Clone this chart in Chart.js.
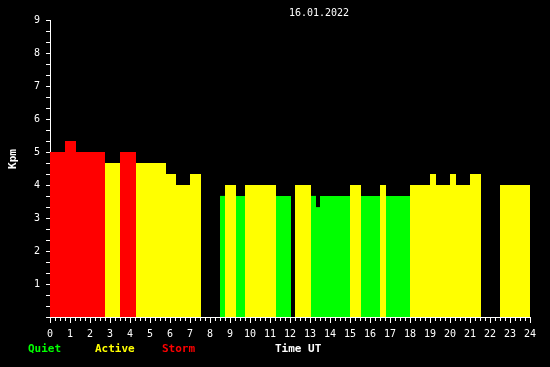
<!DOCTYPE html>
<html>
<head>
<meta charset="utf-8">
<script src="https://cdn.jsdelivr.net/npm/chart.js@4"></script>
<style>
  html, body { margin: 0; padding: 0; background: #000; }
  canvas { display: block; }
</style>
</head>
<body>
<canvas id="kpm" width="550" height="367"></canvas>
<script>
// each bar: start hour UT, end hour UT, Kpm value
var startUT = [0, 0.75, 1.3, 2.75, 3.5, 4.3, 5.8, 6.3, 7.0,
               8.5, 8.75, 9.3, 9.75, 11.3,
               12.25, 13.05, 13.3, 13.5, 15.0, 15.55, 16.5, 16.8, 18.0,
               19.0, 19.3, 20.0, 20.3, 21.0,
               22.5];
var endUT = [0.75, 1.3, 2.75, 3.5, 4.3, 5.8, 6.3, 7.0, 7.55,
             8.75, 9.3, 9.75, 11.3, 12.05,
             13.05, 13.3, 13.5, 15.0, 15.55, 16.5, 16.8, 18.0, 19.0,
             19.3, 20.0, 20.3, 21.0, 21.55,
             24.05];
var kpm = [5.0, 5.33, 5.0, 4.67, 5.0, 4.67, 4.33, 4.0, 4.33,
           3.67, 4.0, 3.67, 4.0, 3.67,
           4.0, 3.67, 3.33, 3.67, 4.0, 3.67, 4.0, 3.67, 4.0,
           4.33, 4.0, 4.33, 4.0, 4.33,
           4.0];

var levelNames = ['Quiet', 'Active', 'Storm'];
var levelColors = ['#00ff00', '#ffff00', '#ff0000'];
var levelFrom = [0, 4, 5];
var dateLabel = '16.01.2022';

function levelOf(v) {
    var l = 0;
    for (var i = 0; i < levelFrom.length; i++) {
        if (v >= levelFrom[i]) l = i;
    }
    return l;
}

// one filled dataset per activity level, every bar is a closed run
var datasets = levelNames.map(function (name, l) {
    var pts = [];
    for (var i = 0; i < kpm.length; i++) {
        if (levelOf(kpm[i]) !== l) continue;
        pts.push({x: startUT[i], y: kpm[i]});
        pts.push({x: endUT[i], y: kpm[i]});
        pts.push({x: endUT[i], y: null});
    }
    return {
        label: name,
        data: pts,
        backgroundColor: levelColors[l],
        borderWidth: 0,
        pointRadius: 0,
        fill: 'origin',
        spanGaps: false,
        clip: false
    };
});

var textPlugin = {
    id: 'texts',
    beforeDraw: function (chart) {
        var c = chart.ctx;
        c.save();
        c.fillStyle = '#000';
        c.fillRect(0, 0, chart.width, chart.height);
        c.restore();
    },
    afterDraw: function (chart) {
        var c = chart.ctx;
        c.save();
        c.textBaseline = 'middle';
        c.fillStyle = '#fff';
        c.font = '10px "DejaVu Sans Mono"';
        c.textAlign = 'center';
        c.fillText(dateLabel, 319, 13);

        c.font = 'bold 11px "DejaVu Sans Mono"';
        c.save();
        c.translate(13, 159);
        c.rotate(-Math.PI / 2);
        c.fillText('Kpm', 0, 0);
        c.restore();

        c.textAlign = 'left';
        var lx = [28, 95, 162];
        for (var i = 0; i < levelNames.length; i++) {
            c.fillStyle = levelColors[i];
            c.fillText(levelNames[i], lx[i], 349);
        }
        c.fillStyle = '#fff';
        c.fillText('Time UT', 275, 349);
        c.restore();
    }
};

Chart.defaults.font.family = '"DejaVu Sans Mono"';
Chart.defaults.font.size = 10;
Chart.defaults.color = '#fff';

function isWhole(v) {
    return Math.abs(v - Math.round(v)) < 1e-6;
}

new Chart(document.getElementById('kpm').getContext('2d'), {
    type: 'line',
    data: {datasets: datasets},
    options: {
        responsive: false,
        animation: false,
        layout: {padding: {top: 20, right: 20, left: 0, bottom: 0}},
        plugins: {
            legend: {display: false},
            tooltip: {enabled: false}
        },
        scales: {
            x: {
                type: 'linear',
                min: 0,
                max: 24,
                border: {color: '#fff', width: 1},
                grid: {
                    drawOnChartArea: false,
                    color: '#fff',
                    tickLength: 6,
                    tickBorderDash: function (ctx) {
                        return ctx.tick && isWhole(ctx.tick.value) ? [] : [3, 20];
                    }
                },
                ticks: {
                    stepSize: 0.25,
                    autoSkip: false,
                    maxRotation: 0,
                    padding: 5,
                    callback: function (v) { return isWhole(v) ? String(Math.round(v)) : ''; }
                },
                afterFit: function (s) { s.height = 50; }
            },
            y: {
                min: 0,
                max: 9,
                border: {color: '#fff', width: 1},
                grid: {
                    drawOnChartArea: false,
                    color: '#fff',
                    tickLength: 4
                },
                ticks: {
                    stepSize: 1 / 3,
                    autoSkip: false,
                    padding: 6,
                    callback: function (v) {
                        var r = Math.round(v);
                        return isWhole(v) && r > 0 ? String(r) : '';
                    }
                },
                afterFit: function (s) { s.width = 50; }
            }
        }
    },
    plugins: [textPlugin]
});
</script>
</body>
</html>
